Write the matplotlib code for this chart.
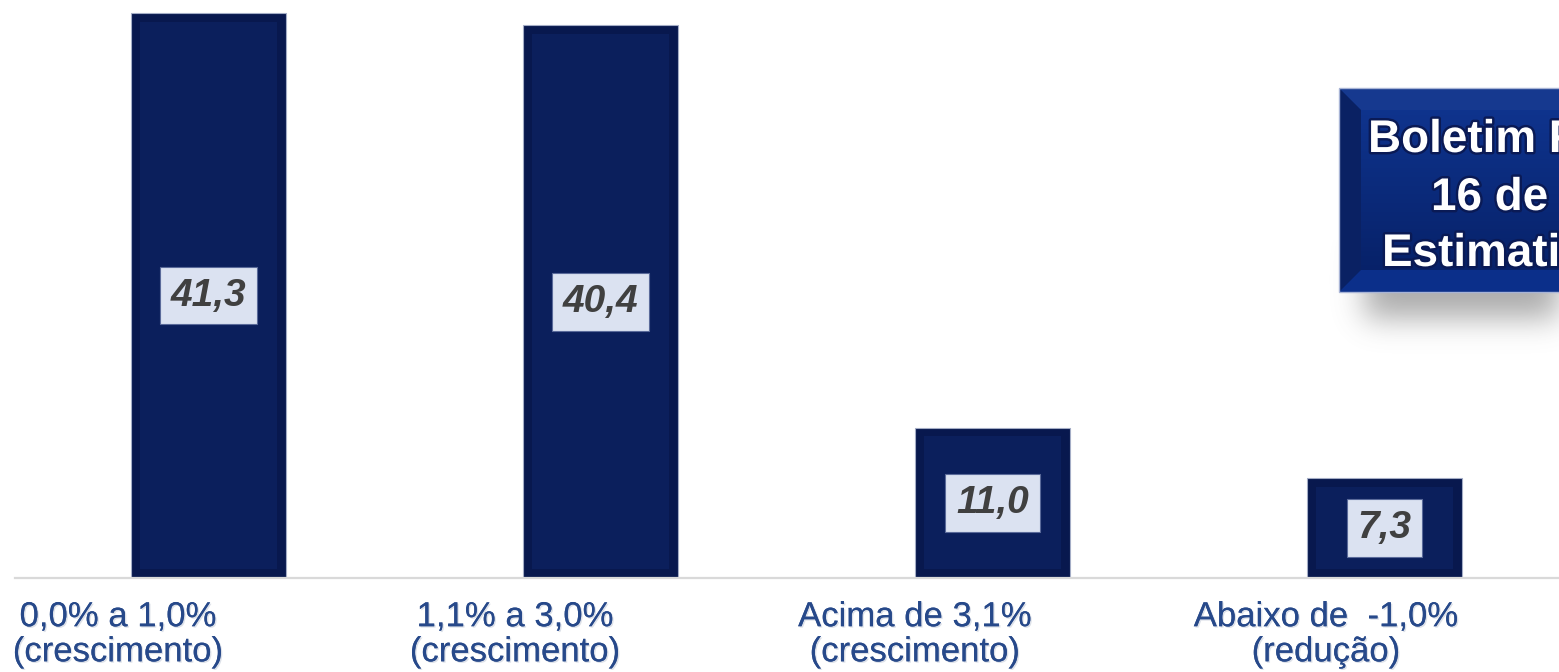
import numpy as np
import matplotlib.pyplot as plt
import matplotlib.patheffects as pe
from matplotlib.patches import Polygon, Rectangle

# ==================== dados ====================
categorias = [
    "0,0% a 1,0%\n(crescimento)",
    "1,1% a 3,0%\n(crescimento)",
    "Acima de 3,1%\n(crescimento)",
    "Abaixo de  -1,0%\n(redução)",
]
valores = [41.3, 40.4, 11.0, 7.3]
rotulos = ["41,3", "40,4", "11,0", "7,3"]
titulo_linhas = ["Boletim Focus", "16 de março", "Estimativa"]

# deslocamento dos rótulos do eixo em relação às barras (layout)
desloc_rotulo = [-0.231, -0.218, -0.198, -0.149]

plt.rcParams["font.family"] = ["Liberation Sans", "DejaVu Sans"]

W, H = 1559, 672
fig = plt.figure(figsize=(W / 100, H / 100), dpi=100)
fig.patch.set_facecolor("white")

# === eixo principal ===
ax = fig.add_axes([15 / W, (H - 578) / H, (W - 15) / W, 578 / H])
x = np.arange(len(valores))
largura = 0.395

ax.bar(x, valores, width=largura, color="#08184e", edgecolor="#a4adc6",
       linewidth=0.8, zorder=2)
# bisel interno
ix, iy = 9 / 392, 0.65
internas = ax.bar(x, np.array(valores) - 2 * iy, bottom=iy, width=largura - 2 * ix,
                  color="#0b1f5c", linewidth=0, zorder=3)

ax.bar_label(internas, labels=rotulos, label_type="center", fontsize=28,
             fontweight="bold", fontstyle="italic", color="#404040", zorder=5,
             bbox=dict(boxstyle="square,pad=0.28", facecolor="#dbe2f1",
                       edgecolor="#5a6a9a", linewidth=0.8))

ax.set_xlim(-0.494, (W - 208.5) / 392)
ax.set_ylim(0, 578 / 13.68)
ax.set_yticks([])
ax.set_xticks(x + np.array(desloc_rotulo))
ax.set_xticklabels(categorias, fontsize=25, color="#27498a", linespacing=1.08)
ax.tick_params(axis="x", length=0, pad=16)
for lab in ax.get_xticklabels():
    lab.set_path_effects([pe.withSimplePatchShadow(offset=(1, -1), alpha=0.25,
                                                   shadow_rgbFace="#7a8aa8"),
                          pe.Normal()])
for s in ["top", "left", "right"]:
    ax.spines[s].set_visible(False)
ax.spines["bottom"].set_color("#d9d9d9")
ax.spines["bottom"].set_linewidth(1.6)
ax.set_facecolor("none")

# === caixa do título (coordenadas em pixels) ===
ov = fig.add_axes([0, 0, 1, 1], zorder=4)
ov.set_xlim(0, W)
ov.set_ylim(H, 0)
ov.axis("off")
ov.patch.set_alpha(0)

x0, x1, y0, y1, b = 1339, 1620, 88, 292, 22

# sombra desfocada
gx = np.arange(1280, W + 1)
gy = np.arange(240, 400)
k = np.exp(-0.5 * (np.arange(-45, 46) / 15.0) ** 2)
k /= k.sum()
px = np.convolve(((gx >= 1365) & (gx <= 1800)).astype(float), k, mode="same")
py = np.convolve(((gy >= 140) & (gy <= 318)).astype(float), k, mode="same")
alpha = 0.5 * py[:, None] * px[None, :]
sombra = np.zeros((len(gy), len(gx), 4))
sombra[..., :3] = 0.35
sombra[..., 3] = alpha
ov.imshow(sombra, extent=[gx[0], gx[-1], gy[-1], gy[0]], aspect="auto", zorder=1)

# face com gradiente
grad = np.linspace(0, 1, 100)[:, None]
top_c = np.array([0x10, 0x36, 0x92]) / 255
bot_c = np.array([0x06, 0x1f, 0x64]) / 255
face = (top_c * (1 - grad[..., None]) + bot_c * grad[..., None]) * np.ones((1, 2, 1))
ov.imshow(face, extent=[x0, x1, y1, y0], aspect="auto", zorder=2)

ov.add_patch(Polygon([(x0, y0), (x1, y0), (x1 - b, y0 + b), (x0 + b, y0 + b)],
                     closed=True, color="#16398f", lw=0, zorder=3))
ov.add_patch(Polygon([(x0, y0), (x0 + b, y0 + b), (x0 + b, y1 - b), (x0, y1)],
                     closed=True, color="#0a2163", lw=0, zorder=3))
ov.add_patch(Polygon([(x0, y1), (x0 + b, y1 - b), (x1 - b, y1 - b), (x1, y1)],
                     closed=True, color="#0b2f8a", lw=0, zorder=3))
ov.add_patch(Rectangle((x0, y0), x1 - x0, y1 - y0, fill=False,
                       edgecolor="#a8b4d6", lw=1.0, zorder=4))

titulo_x = [1368, 1431, 1382]
titulo_y = [152, 210, 266]
for txt, tx, ty in zip(titulo_linhas, titulo_x, titulo_y):
    ov.text(tx, ty, txt, fontsize=33, fontweight="bold", color="white",
            ha="left", va="baseline", zorder=5,
            path_effects=[pe.withStroke(linewidth=3.5, foreground="#0a1a55")])

fig.savefig("out.png", dpi=100, facecolor="white")
